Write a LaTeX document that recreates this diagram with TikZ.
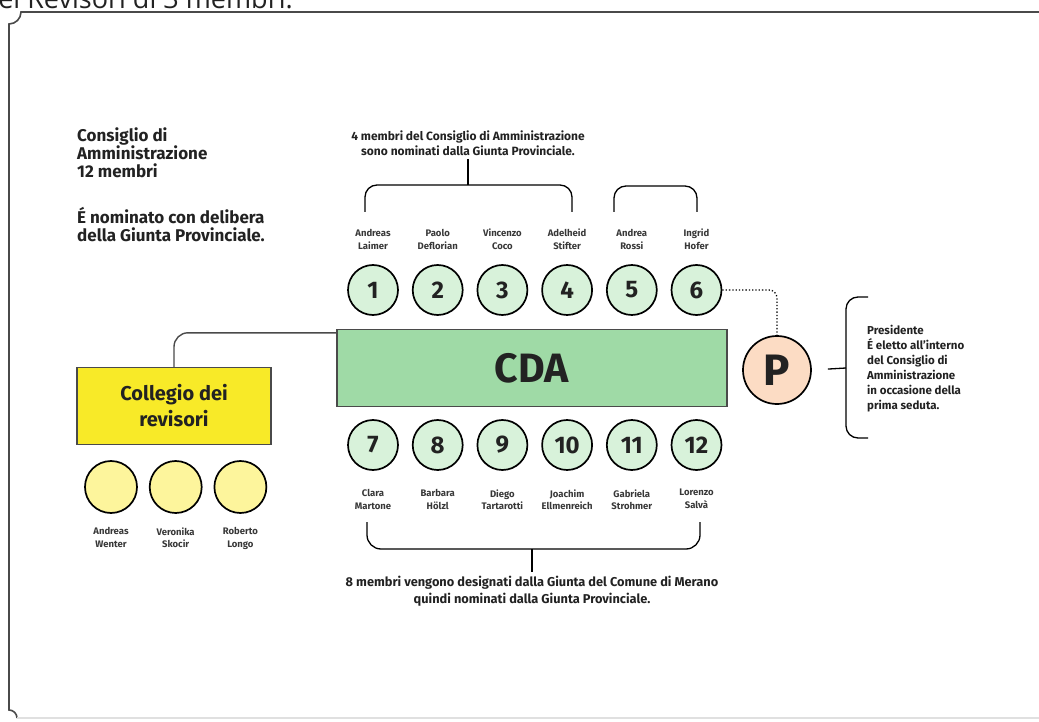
\documentclass[tikz,border=0pt]{standalone}
\usepackage{fontspec}
\setmainfont{Fira Sans}
\newfontfamily\headfont{Open Sans}
\usetikzlibrary{positioning}

\definecolor{framegray}{HTML}{4A4A4A}
\definecolor{inkgray}{HTML}{222222}
\definecolor{cdagreen}{HTML}{9FDAA6}
\definecolor{memberfill}{HTML}{D8F2DA}
\definecolor{boxyellow}{HTML}{F8EA28}
\definecolor{auditfill}{HTML}{FDF59C}
\definecolor{presfill}{HTML}{FCDCC4}

\begin{document}
\begin{tikzpicture}[x=1pt,y=-1pt,node distance=13pt,
  member/.style={circle,draw=black,line width=1.7pt,fill=memberfill,minimum size=50pt,inner sep=0pt,
    font=\fontsize{24}{24}\selectfont\bfseries,text=inkgray},
  auditor/.style={circle,draw=black,line width=1.7pt,fill=auditfill,minimum size=52pt,inner sep=0pt},
  personname/.style={align=center,font=\fontsize{9.5}{12.5}\selectfont\bfseries,text=inkgray!90},
  infonote/.style={align=center,font=\fontsize{12}{15}\selectfont\bfseries,text=inkgray},
  intro/.style={align=left,anchor=north west,inner sep=0pt,font=\fontsize{17}{18}\selectfont\bfseries,text=inkgray},
  bigbox/.style={rectangle,draw=framegray,line width=1.4pt,minimum height=77pt,inner sep=0pt},
  bracket/.style={draw=black,line width=1.3pt,rounded corners=12pt},
  frameline/.style={draw=framegray,line width=1.6pt},
]
\useasboundingbox (0,0) rectangle (1039,722);
\clip (0,0) rectangle (1039,722);

% Frame
\node[anchor=base east,inner sep=0pt,font=\headfont\fontsize{27}{27}\selectfont,text=inkgray] (title) at (293,9) {ei Revisori di 3 membri.};
\draw[frameline] (1045,12) -- (21,12) .. controls (21,18.6) and (15.6,24) .. (9,24) -- (9,710)
  .. controls (13.4,710) and (17,713.6) .. (17,718);
\draw[draw=black!12,line width=1.4pt] (17,718) -- (1045,718);

% Texts
\node[intro] (cdatitle) at (77,128) {Consiglio di\\Amministrazione\\12 membri};
\node[intro] (cdanote) at (77,207) {É nominato con delibera\\della Giunta Provinciale.};
\node[infonote] (topnote) at (468,143) {4 membri del Consiglio di Amministrazione\\sono nominati dalla Giunta Provinciale.};
\node[infonote,font=\fontsize{12.8}{17}\selectfont\bfseries] (botnote) at (532,591) {8 membri vengono designati dalla Giunta del Comune di Merano\\quindi nominati dalla Giunta Provinciale.};
\node[align=left,anchor=north west,inner sep=0pt,font=\fontsize{11.5}{15}\selectfont\bfseries,text=inkgray] (presnote) at (867,325)
  {\textbf{Presidente}\\É eletto all'interno\\del Consiglio di\\Amministrazione\\in occasione della\\prima seduta.};

% Boxes
\node[bigbox,fill=cdagreen,minimum width=390pt,font=\fontsize{41}{41}\selectfont\bfseries,text=inkgray] (cda) at (532,368) {CDA};
\node[bigbox,fill=boxyellow,minimum width=194pt,align=center,font=\fontsize{20}{26}\selectfont\bfseries,text=inkgray] (revisori) at (174,406) {Collegio dei\\revisori};
\node[circle,draw=black,line width=1.7pt,fill=presfill,minimum size=68pt,inner sep=0pt,font=\fontsize{44}{44}\selectfont\bfseries,text=inkgray] (pres) at (777,370) {P};

% Members
\node[member,label={[personname,label distance=11pt]above:{Andreas\\Laimer}}] (m1) at (373,290) {1};
\node[member,label={[personname,label distance=11pt]above:{Paolo\\Deflorian}},right=of m1] (m2) {2};
\node[member,label={[personname,label distance=11pt]above:{Vincenzo\\Coco}},right=of m2] (m3) {3};
\node[member,label={[personname,label distance=11pt]above:{Adelheid\\Stifter}},right=of m3] (m4) {4};
\node[member,label={[personname,label distance=11pt]above:{Andrea\\Rossi}},right=of m4] (m5) {5};
\node[member,label={[personname,label distance=11pt]above:{Ingrid\\Hofer}},right=of m5] (m6) {6};

\node[member,label={[personname,label distance=15pt]below:{Clara\\Martone}}] (m7) at (373,445) {7};
\node[member,label={[personname,label distance=15pt]below:{Barbara\\Hölzl}},right=of m7] (m8) {8};
\node[member,label={[personname,label distance=15pt]below:{Diego\\Tartarotti}},right=of m8] (m9) {9};
\node[member,label={[personname,label distance=15pt]below:{Joachim\\Ellmenreich}},right=of m9] (m10) {10};
\node[member,label={[personname,label distance=15pt]below:{Gabriela\\Strohmer}},right=of m10] (m11) {11};
\node[member,label={[personname,label distance=15pt]below:{Lorenzo\\Salvà}},right=of m11] (m12) {12};

% Auditors
\node[auditor,label={[personname,label distance=10pt]below:{Andreas\\Wenter}}] (a1) at (111,487) {};
\node[auditor,label={[personname,label distance=10pt]below:{Veronika\\Skocir}},right=11pt of a1] (a2) {};
\node[auditor,label={[personname,label distance=10pt]below:{Roberto\\Longo}},right=11pt of a2] (a3) {};

% Links
\draw[line width=1.4pt,draw=framegray,rounded corners=14pt] ([yshift=-4pt]cda.north west) -| (revisori.north);
\draw[line width=1.3pt,dotted,rounded corners=8pt] (m6.east) -| (pres.north);
\coordinate (pb) at (846,368);
\draw[line width=1.3pt,shorten <=16pt] (pres.east) -- (pb);

% Brackets
\draw[bracket] (868,297) -| (pb) |- (868,438);
\draw[bracket] (365,212) |- (468,185) -| (572,212);
\draw[line width=1.3pt] (topnote.south) -- (468,185);
\draw[bracket] (614,212) |- (655,186) -| (697,212);
\draw[bracket,rounded corners=14pt] (367,522) |- (532,549) -| (700,522);
\draw[line width=1.3pt] (532,549) -- (botnote.north);
\end{tikzpicture}
\end{document}
